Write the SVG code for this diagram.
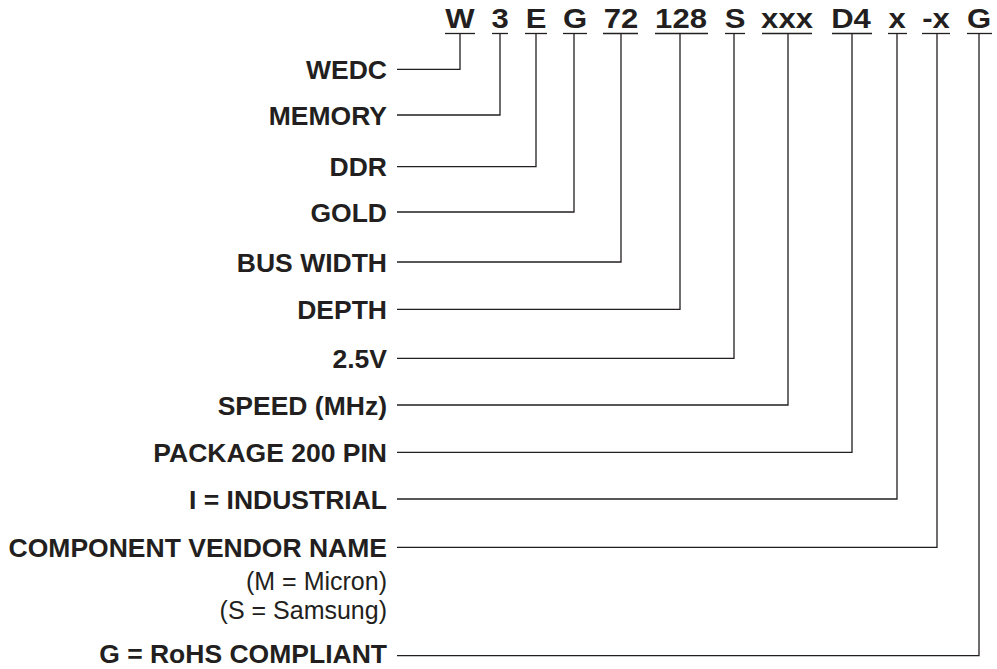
<svg xmlns="http://www.w3.org/2000/svg" width="997" height="669" viewBox="0 0 997 669">
<style>
text{font-family:"Liberation Sans",Arial,sans-serif;fill:#231f20}
.lbl{font-size:26.5px;font-weight:bold;text-anchor:end}
.sub{font-size:25px;text-anchor:end}
.code{font-size:27px;font-weight:bold;text-anchor:middle}
.ln{fill:none;stroke:#231f20;stroke-width:1.3}
</style>
<rect width="997" height="669" fill="#fff"/>
<g id="code">
<g id="c-W"><text class="code" transform="translate(460,28) scale(1.15,1)">W</text><line class="ln" x1="445" y1="33.5" x2="475" y2="33.5"/></g>
<g id="c-3"><text class="code" transform="translate(500,28) scale(1.15,1)">3</text><line class="ln" x1="492" y1="33.5" x2="508" y2="33.5"/></g>
<g id="c-E"><text class="code" transform="translate(536,28) scale(1.15,1)">E</text><line class="ln" x1="525" y1="33.5" x2="547" y2="33.5"/></g>
<g id="c-G"><text class="code" transform="translate(575,28) scale(1.15,1)">G</text><line class="ln" x1="563" y1="33.5" x2="587" y2="33.5"/></g>
<g id="c-72"><text class="code" transform="translate(621,28) scale(1.15,1)">72</text><line class="ln" x1="603" y1="33.5" x2="638" y2="33.5"/></g>
<g id="c-128"><text class="code" transform="translate(681,28) scale(1.15,1)">128</text><line class="ln" x1="655" y1="33.5" x2="708" y2="33.5"/></g>
<g id="c-S"><text class="code" transform="translate(735,28) scale(1.15,1)">S</text><line class="ln" x1="725" y1="33.5" x2="745" y2="33.5"/></g>
<g id="c-xxx"><text class="code" transform="translate(787,28) scale(1.15,1)">xxx</text><line class="ln" x1="762" y1="33.5" x2="812" y2="33.5"/></g>
<g id="c-D4"><text class="code" transform="translate(851,28) scale(1.15,1)">D4</text><line class="ln" x1="832" y1="33.5" x2="872" y2="33.5"/></g>
<g id="c-x"><text class="code" transform="translate(897,28) scale(1.15,1)">x</text><line class="ln" x1="888" y1="33.5" x2="907" y2="33.5"/></g>
<g id="c-dx"><text class="code" transform="translate(936,28) scale(1.15,1)">-x</text><line class="ln" x1="922" y1="33.5" x2="950" y2="33.5"/></g>
<g id="c-G2"><text class="code" transform="translate(979,28) scale(1.15,1)">G</text><line class="ln" x1="967" y1="33.5" x2="992" y2="33.5"/></g>
</g>
<g id="labels">
<g id="l-wedc"><text class="lbl" x="387" y="79">WEDC</text></g>
<g id="l-memory"><text class="lbl" x="387" y="124.5">MEMORY</text></g>
<g id="l-ddr"><text class="lbl" x="387" y="176">DDR</text></g>
<g id="l-gold"><text class="lbl" x="387" y="221.5">GOLD</text></g>
<g id="l-bus"><text class="lbl" x="387" y="271.5">BUS WIDTH</text></g>
<g id="l-depth"><text class="lbl" x="387" y="318.8">DEPTH</text></g>
<g id="l-volt"><text class="lbl" x="387" y="367.8">2.5V</text></g>
<g id="l-speed"><text class="lbl" x="387" y="414.5">SPEED (MHz)</text></g>
<g id="l-pkg"><text class="lbl" x="387" y="461.8">PACKAGE 200 PIN</text></g>
<g id="l-ind"><text class="lbl" x="387" y="508.5">I = INDUSTRIAL</text></g>
<g id="l-vendor"><text class="lbl" x="387" y="556.8">COMPONENT VENDOR NAME</text><text class="sub" x="387" y="590">(M = Micron)</text><text class="sub" x="387" y="618.5">(S = Samsung)</text></g>
<g id="l-rohs"><text class="lbl" x="387" y="663">G = RoHS COMPLIANT</text></g>
</g>
<g id="connectors">
<path class="ln" d="M397 69.3H460V33.5"/>
<path class="ln" d="M397 115H500V33.5"/>
<path class="ln" d="M397 166.7H536V33.5"/>
<path class="ln" d="M397 212H574V33.5"/>
<path class="ln" d="M397 262H621V33.5"/>
<path class="ln" d="M397 309.3H680V33.5"/>
<path class="ln" d="M397 358.3H734V33.5"/>
<path class="ln" d="M397 405H788V33.5"/>
<path class="ln" d="M397 452.3H852V33.5"/>
<path class="ln" d="M397 499H897V33.5"/>
<path class="ln" d="M397 547.3H937V33.5"/>
<path class="ln" d="M397 655.7H979V33.5"/>
</g>
</svg>
